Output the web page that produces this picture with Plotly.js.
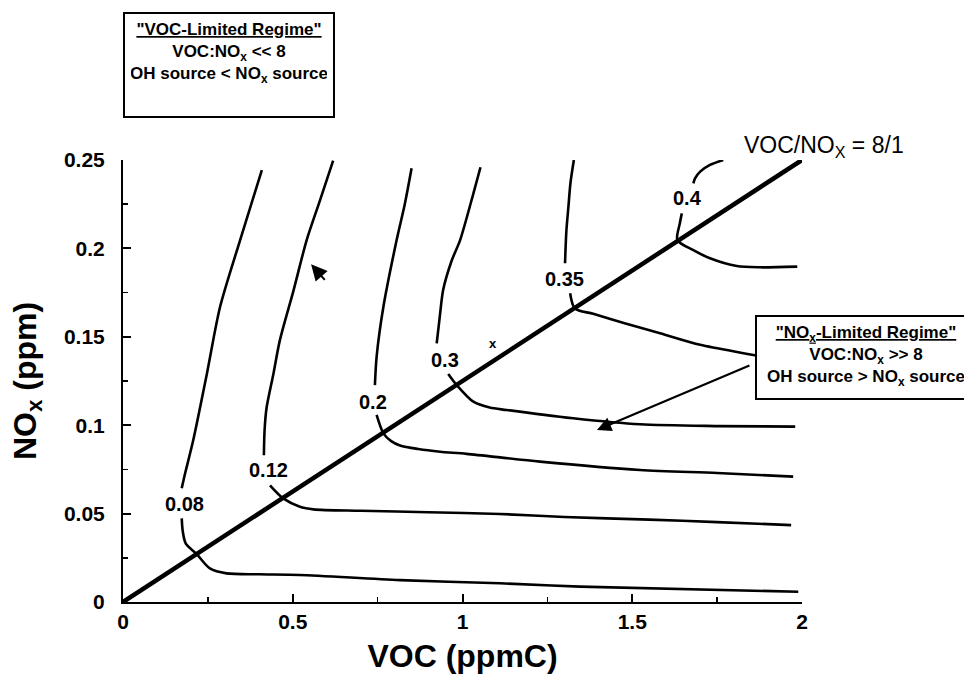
<!DOCTYPE html>
<html>
<head>
<meta charset="utf-8">
<script src="https://cdn.plot.ly/plotly-3.0.1.min.js"></script>
<style>html,body{margin:0;padding:0;background:#fff;}#chart{width:964px;height:685px;}</style>
</head>
<body>
<div id="chart"></div>
<script>
// Ozone isopleths (ppm); null separates the gap left for the label
const c008x = [0.409, 0.345, 0.286, 0.247, 0.207, 0.183, 0.173, null, 0.173, 0.176, 0.185, 0.217, 0.256, 0.305, 0.4, 0.521, 0.816, 1.11, 1.346, 1.989];
const c008y = [0.2443, 0.2047, 0.167, 0.129, 0.0916, 0.0728, 0.0643, null, 0.0473, 0.04, 0.033, 0.0271, 0.019, 0.0162, 0.0157, 0.0153, 0.0124, 0.0106, 0.0087, 0.0058];
const c012x = [0.619, 0.58, 0.541, 0.502, 0.462, 0.443, 0.423, 0.417, 0.415, null, 0.433, 0.472, 0.521, 0.561, 0.7, 0.9, 1.11, 1.3, 1.55, 1.75, 1.968];
const c012y = [0.2496, 0.227, 0.2047, 0.176, 0.148, 0.129, 0.110, 0.097, 0.083, null, 0.066, 0.0586, 0.0539, 0.0524, 0.0516, 0.0508, 0.0498, 0.0481, 0.0466, 0.0452, 0.0435];
const c02x = [0.85, 0.83, 0.806, 0.767, 0.747, 0.742, null, 0.747, 0.767, 0.79, 0.816, 0.87, 0.934, 1.012, 1.228, 1.523, 1.75, 1.974];
const c02y = [0.2453, 0.225, 0.2047, 0.167, 0.1387, 0.1227, null, 0.1058, 0.0954, 0.091, 0.0885, 0.0865, 0.085, 0.0838, 0.0794, 0.0747, 0.073, 0.0709];
const c03x = [1.053, 1.032, 0.993, 0.968, 0.943, 0.934, 0.924, null, 0.958, 0.983, 1.032, 1.08, 1.13, 1.326, 1.523, 1.75, 1.98];
const c03y = [0.2459, 0.231, 0.2047, 0.193, 0.1765, 0.163, 0.1463, null, 0.129, 0.1227, 0.1133, 0.11, 0.1086, 0.1039, 0.1005, 0.0995, 0.0992];
const c035x = [1.328, 1.318, 1.312, 1.306, 1.302, null, 1.317, 1.331, 1.385, 1.48, 1.582, 1.7, 1.857, 2.0];
const c035y = [0.25, 0.237, 0.2236, 0.21, 0.1916, null, 0.1746, 0.166, 0.163, 0.1575, 0.152, 0.1455, 0.1397, 0.134];
const c04x = [1.768, 1.729, 1.70, 1.685, 1.68, null, 1.646, 1.64, 1.633, 1.68, 1.729, 1.808, 1.876, 1.986];
const c04y = [0.25, 0.2472, 0.2434, 0.2396, 0.2368, null, 0.2198, 0.214, 0.2047, 0.199, 0.1944, 0.19, 0.1893, 0.1897];

// VOC/NOx = 8/1 line
const ratioX = [0, 2];
const ratioY = [0, 0.25];

// contour labels
const labelText = ['0.08', '0.12', '0.2', '0.3', '0.35', '0.4'];
const labelX = [0.18, 0.43, 0.735, 0.948, 1.299, 1.664];
const labelY = [0.0554, 0.0747, 0.1133, 0.1369, 0.1827, 0.2285];

// axis ticks
const xTickVals = [0, 0.5, 1, 1.5, 2];
const xTickText = ['0', '0.5', '1', '1.5', '2'];
const yTickVals = [0, 0.05, 0.1, 0.15, 0.2, 0.25];
const yTickText = ['0', '0.05', '0.1', '0.15', '0.2', '0.25'];

const FONT = 'Liberation Sans, Arial, Helvetica, sans-serif';
const contourLine = {color: '#000', width: 2.6, shape: 'spline', smoothing: 0.8};

const curves = [[c008x, c008y], [c012x, c012y], [c02x, c02y], [c03x, c03y], [c035x, c035y], [c04x, c04y]];
const traces = curves.map(c => ({
  x: c[0], y: c[1], type: 'scatter', mode: 'lines', line: contourLine,
  connectgaps: false, hoverinfo: 'skip', showlegend: false
}));
traces.push({x: ratioX, y: ratioY, type: 'scatter', mode: 'lines',
  line: {color: '#000', width: 4.5}, hoverinfo: 'skip', showlegend: false});

const annotations = labelText.map((t, i) => ({
  x: labelX[i], y: labelY[i], xref: 'x', yref: 'y', text: t, showarrow: false,
  font: {family: FONT, size: 20, weight: 'bold', color: '#000'}
}));

annotations.push({x: 1.09, y: 0.1464, xref: 'x', yref: 'y', text: 'x', showarrow: false,
  font: {family: FONT, size: 13, weight: 'bold', color: '#000'}});

annotations.push({x: 0.912, y: 1.03, xref: 'paper', yref: 'paper', text: 'VOC/NO<sub>X</sub> = 8/1',
  xanchor: 'left', yanchor: 'middle', showarrow: false,
  font: {family: FONT, size: 23, color: '#000'}});

// VOC-limited box
annotations.push({x: 0, y: 1.335, xref: 'paper', yref: 'paper', xanchor: 'left', yanchor: 'top',
  text: '<u>"VOC-Limited Regime"</u><br>VOC:NO<sub>x</sub> &lt;&lt; 8<br>OH source &lt; NO<sub>x</sub> source',
  showarrow: false, align: 'center', valign: 'top', width: 196, height: 90,
  bordercolor: '#000', borderwidth: 2, borderpad: 6, bgcolor: '#fff',
  font: {family: FONT, size: 17, weight: 'bold', color: '#000'}});

// NOx-limited box
annotations.push({x: 0.931, y: 0.649, xref: 'paper', yref: 'paper', xanchor: 'left', yanchor: 'top',
  text: '<u>"NO<sub>x</sub>-Limited Regime"</u><br>VOC:NO<sub>x</sub> >> 8<br>OH source > NO<sub>x</sub> source',
  showarrow: false, align: 'center', valign: 'top', width: 206, height: 69,
  bordercolor: '#000', borderwidth: 2, borderpad: 6, bgcolor: '#fff',
  font: {family: FONT, size: 17, weight: 'bold', color: '#000'}});

// arrow from NOx-limited box
annotations.push({x: 1.396, y: 0.0973, xref: 'x', yref: 'y', text: '', showarrow: true,
  ax: 154, ay: -65, arrowhead: 2, arrowsize: 1.3, arrowwidth: 2.2, arrowcolor: '#000', standoff: 0});

// small arrowhead mark
annotations.push({x: 0.554, y: 0.191, xref: 'x', yref: 'y', text: '', showarrow: true,
  ax: 15, ay: 17, arrowhead: 2, arrowsize: 1.6, arrowwidth: 2, arrowcolor: '#000', standoff: 0});

const layout = {
  width: 964, height: 685,
  margin: {l: 123, r: 162, t: 160, b: 83},
  paper_bgcolor: '#fff', plot_bgcolor: '#fff',
  showlegend: false,
  xaxis: {
    range: [0, 2], showgrid: false, zeroline: false, showline: true, linecolor: '#000', linewidth: 2,
    tickmode: 'array', tickvals: xTickVals, ticktext: xTickText,
    ticks: 'inside', ticklen: 8, tickwidth: 2, tickcolor: '#000', ticklabelstandoff: 0,
    minor: {tickmode: 'linear', tick0: 0, dtick: 0.25, ticks: 'inside', ticklen: 5, tickwidth: 1.5, tickcolor: '#000', showgrid: false},
    tickfont: {family: FONT, size: 21, weight: 'bold', color: '#000'},
    title: {text: 'VOC (ppmC)', standoff: 12, font: {family: FONT, size: 32, weight: 'bold', color: '#000'}}
  },
  yaxis: {
    range: [0, 0.25], showgrid: false, zeroline: false, showline: true, linecolor: '#000', linewidth: 2,
    tickmode: 'array', tickvals: yTickVals, ticktext: yTickText,
    ticks: 'inside', ticklen: 8, tickwidth: 2, tickcolor: '#000', ticklabelstandoff: 12,
    minor: {tickmode: 'linear', tick0: 0, dtick: 0.025, ticks: 'inside', ticklen: 5, tickwidth: 1.5, tickcolor: '#000', showgrid: false},
    tickfont: {family: FONT, size: 21, weight: 'bold', color: '#000'},
    title: {text: 'NO<sub>x</sub> (ppm)', standoff: 18, font: {family: FONT, size: 32, weight: 'bold', color: '#000'}}
  },
  annotations: annotations
};

Plotly.newPlot('chart', traces, layout, {staticPlot: true, displayModeBar: false});
</script>
</body>
</html>
